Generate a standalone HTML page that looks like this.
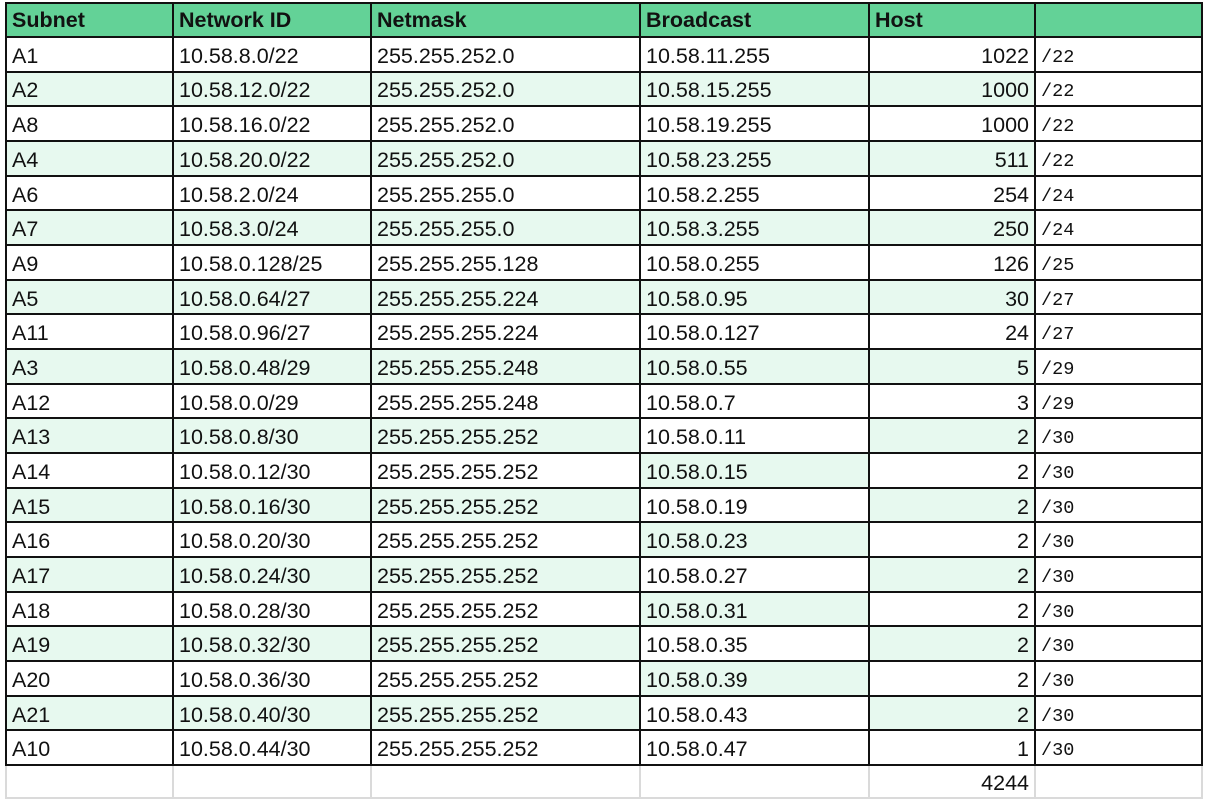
<!DOCTYPE html>
<html><head><meta charset="utf-8"><style>
html,body{margin:0;padding:0;background:#fff;width:1207px;height:802px;overflow:hidden;}
#t{position:relative;width:1207px;height:802px;font-family:"Liberation Sans",Arial,sans-serif;font-size:21.5px;color:#111;}
.c{position:absolute;box-sizing:border-box;padding:4px 6px 0 6px;white-space:nowrap;display:flex;align-items:center;}
.hd{font-weight:bold;background:#63d297;font-size:21.5px;padding-top:1px;}
.r{justify-content:flex-end;}
.m{font-family:"Liberation Mono","DejaVu Sans Mono",monospace;font-size:18.5px;padding-left:6px;padding-top:6px;}
.ln{position:absolute;background:#111;}
.gl{position:absolute;background:#dadada;}
</style></head><body>
<div id="t"></div>
<script>
const headers=["Subnet","Network ID","Netmask","Broadcast","Host",""];
const subnets=["A1","A2","A8","A4","A6","A7","A9","A5","A11","A3","A12","A13","A14","A15","A16","A17","A18","A19","A20","A21","A10"];
const networkIds=["10.58.8.0/22","10.58.12.0/22","10.58.16.0/22","10.58.20.0/22","10.58.2.0/24","10.58.3.0/24","10.58.0.128/25","10.58.0.64/27","10.58.0.96/27","10.58.0.48/29","10.58.0.0/29","10.58.0.8/30","10.58.0.12/30","10.58.0.16/30","10.58.0.20/30","10.58.0.24/30","10.58.0.28/30","10.58.0.32/30","10.58.0.36/30","10.58.0.40/30","10.58.0.44/30"];
const netmasks=["255.255.252.0","255.255.252.0","255.255.252.0","255.255.252.0","255.255.255.0","255.255.255.0","255.255.255.128","255.255.255.224","255.255.255.224","255.255.255.248","255.255.255.248","255.255.255.252","255.255.255.252","255.255.255.252","255.255.255.252","255.255.255.252","255.255.255.252","255.255.255.252","255.255.255.252","255.255.255.252","255.255.255.252"];
const broadcasts=["10.58.11.255","10.58.15.255","10.58.19.255","10.58.23.255","10.58.2.255","10.58.3.255","10.58.0.255","10.58.0.95","10.58.0.127","10.58.0.55","10.58.0.7","10.58.0.11","10.58.0.15","10.58.0.19","10.58.0.23","10.58.0.27","10.58.0.31","10.58.0.35","10.58.0.39","10.58.0.43","10.58.0.47"];
const hosts=[1022,1000,1000,511,254,250,126,30,24,5,3,2,2,2,2,2,2,2,2,2,1];
const prefixes=["/22","/22","/22","/22","/24","/24","/25","/27","/27","/29","/29","/30","/30","/30","/30","/30","/30","/30","/30","/30","/30"];
const total="4244";

const t=document.getElementById('t');
const xs=[6,173,371,640,869,1035,1202];
const top0=3, headH=34, rowH=34.67;
const band="#e7f9ef";
const colNames=["subnet","network-id","netmask","broadcast","host","prefix"];
function cell(x0,x1,y0,y1,txt,cls,bg,name){
  const d=document.createElement('div');
  d.className='c '+cls;
  d.style.left=x0+'px';d.style.width=(x1-x0)+'px';
  d.style.top=y0+'px';d.style.height=(y1-y0)+'px';
  if(bg)d.style.background=bg;
  d.textContent=txt;
  
  
  t.appendChild(d);
}
headers.forEach((h,i)=>cell(xs[i],xs[i+1],top0,top0+headH,h,'hd','',colNames[i]+'-header'));
const y=i=>top0+headH+i*rowH;
subnets.forEach((s,i)=>{
  const g=i%2===1;
  const vals=[s,networkIds[i],netmasks[i],broadcasts[i],String(hosts[i]),prefixes[i]];
  vals.forEach((v,c)=>{
    let on=g;
    if(c===3&&i>=11)on=(i===subnets.length-1)?false:!g;
    if(c===5)on=false;
    cell(xs[c],xs[c+1],y(i),y(i+1),v,c===4?'r':(c===5?'m':''),on?band:'',colNames[c]+'-cell');
  });
});
const yEnd=y(subnets.length);
cell(xs[4],xs[5],yEnd,798,total,'r','','host-total');
function line(cls,x,yy,w,h,name){
  const d=document.createElement('div');d.className=cls;
  d.style.left=x+'px';d.style.top=yy+'px';d.style.width=w+'px';d.style.height=h+'px';
  
  
  t.appendChild(d);
}
xs.forEach(x=>{line('ln',x-1,top0,2,yEnd-top0+1,'column-border');line('gl',x-1,yEnd,2,798-yEnd,'total-column-border');});
for(let i=0;i<=subnets.length+1;i++){
  const yy=i===0?top0:(top0+headH+(i-1)*rowH);
  line('ln',xs[0]-1,Math.round(yy)-1,xs[6]-xs[0]+2,2,'row-border');
}
line('gl',xs[0]-1,797,xs[6]-xs[0]+2,2,'total-row-border');
</script>
</body></html>
